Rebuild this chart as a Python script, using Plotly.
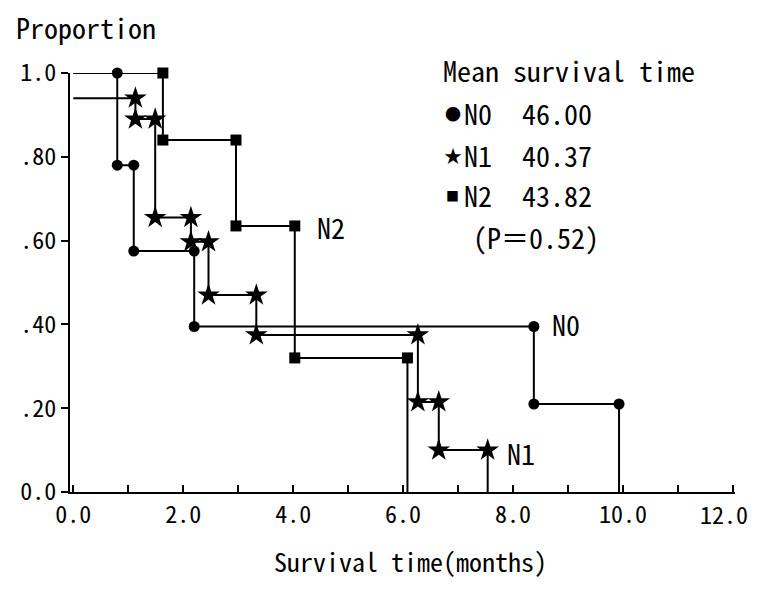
import plotly.graph_objects as go

# ---- data ----
x_tick_vals = [0, 1, 2, 3, 4, 5, 6, 7, 8, 9, 10, 11, 12]
x_tick_text = ["0.0", "", "2.0", "", "4.0", "", "6.0", "", "8.0", "", "10.0", "", ""]
last_x_label = "12.0"   # drawn as text at the figure's right edge so it is not clipped
y_tick_vals = [0.0, 0.2, 0.4, 0.6, 0.8, 1.0]
y_tick_text = ["0.0", ".20", ".40", ".60", ".80", "1.0"]

n0_start = 1.0
n0_times = [0.80, 1.10, 2.20, 8.38, 9.93]
n0_surv = [0.78, 0.575, 0.395, 0.21, 0.0]

n1_start = 0.94
n1_times = [1.13, 1.49, 2.14, 2.46, 3.33, 6.27, 6.65, 7.54]
n1_surv = [0.89, 0.655, 0.597, 0.47, 0.375, 0.215, 0.10, 0.0]

n2_start = 1.0
n2_times = [1.63, 2.96, 4.03, 6.08]
n2_surv = [0.84, 0.635, 0.32, 0.0]

groups = ["N0", "N1", "N2"]
mean_survival = ["46.00", "40.37", "43.82"]
legend_glyphs = ["●", "★", "■"]
p_value = "(P＝0.52)"

FONT = "Noto Sans Mono CJK JP, Noto Sans CJK JP, DejaVu Sans Mono, monospace"

# the page body has an 8px margin; keep the figure inside the window (no scrollbars)
OFF = 8
W, H = 759 - 2 * OFF, 589 - 2 * OFF
PL, PR, PT, PB = 68, 735, 73, 492          # plot-area edges in screen pixels
L, T = PL - OFF, PT - OFF
R = W - (PR - OFF)
B = H - (PB - OFF)


def px(xp):
    return (xp - PL) / (PR - PL)


def py(yp):
    return (PB - yp) / (PB - PT)


def km_path(start, times, surv):
    xs, ys = [0.0], [start]
    mx, my = [], []
    prev = start
    for t, s in zip(times, surv):
        xs += [t, t]
        ys += [prev, s]
        mx.append(t)
        my.append(prev)
        if s > 0:
            mx.append(t)
            my.append(s)
        prev = s
    return xs, ys, mx, my


fig = go.Figure()
series = [
    (n0_start, n0_times, n0_surv, "circle", 11),
    (n1_start, n1_times, n1_surv, "star", 17),
    (n2_start, n2_times, n2_surv, "square", 11),
]
for name, (s0, tt, ss, sym, size) in zip(groups, series):
    xs, ys, mx, my = km_path(s0, tt, ss)
    fig.add_trace(go.Scatter(x=xs, y=ys, mode="lines", name=name,
                             line=dict(color="black", width=2),
                             showlegend=False, cliponaxis=False))
    fig.add_trace(go.Scatter(x=mx, y=my, mode="markers", name=name,
                             marker=dict(symbol=sym, size=size, color="black",
                                         line=dict(width=0)),
                             showlegend=False, cliponaxis=False))

annotations = []


def add_text(text, xp, yp, size=28, xanchor="left"):
    annotations.append(dict(text=text, x=px(xp), y=py(yp), xref="paper", yref="paper",
                            xanchor=xanchor, yanchor="middle", showarrow=False,
                            font=dict(family=FONT, size=size, color="black")))


add_text("Proportion", 84, 27, xanchor="center")
add_text("Survival time(months)", 410, 560, size=26, xanchor="center")
add_text(last_x_label, 750, 513, size=24, xanchor="right")
add_text("Mean survival time", 440, 70)
row_y = [113, 155, 195]
glyph_sizes = [16, 18, 13]
for g, gname, mval, yy, gs in zip(legend_glyphs, groups, mean_survival, row_y, glyph_sizes):
    add_text(g, 452, yy, size=gs, xanchor="center")
    add_text(gname, 461, yy)
    add_text(mval, 519, yy)
add_text(p_value, 470, 237)
add_text("N2", 314, 227)
add_text("N0", 549, 324)
add_text("N1", 504, 453)

fig.update_layout(
    width=W, height=H,
    margin=dict(l=L, r=R, t=T, b=B, pad=0),
    paper_bgcolor="white", plot_bgcolor="white",
    annotations=annotations,
    font=dict(family=FONT, color="black"),
    xaxis=dict(range=[-0.06, 12.04], tickvals=x_tick_vals, ticktext=x_tick_text,
               ticks="inside", ticklen=7, tickwidth=2, tickcolor="black",
               showline=True, linecolor="black", linewidth=2,
               showgrid=False, zeroline=False,
               tickfont=dict(family=FONT, size=24, color="black")),
    yaxis=dict(range=[0, 1.0], tickvals=y_tick_vals, ticktext=y_tick_text,
               ticks="outside", ticklen=7, tickwidth=2, tickcolor="black",
               showline=True, linecolor="black", linewidth=2,
               showgrid=False, zeroline=False,
               tickfont=dict(family=FONT, size=24, color="black")),
)

fig.write_html("out.html")
